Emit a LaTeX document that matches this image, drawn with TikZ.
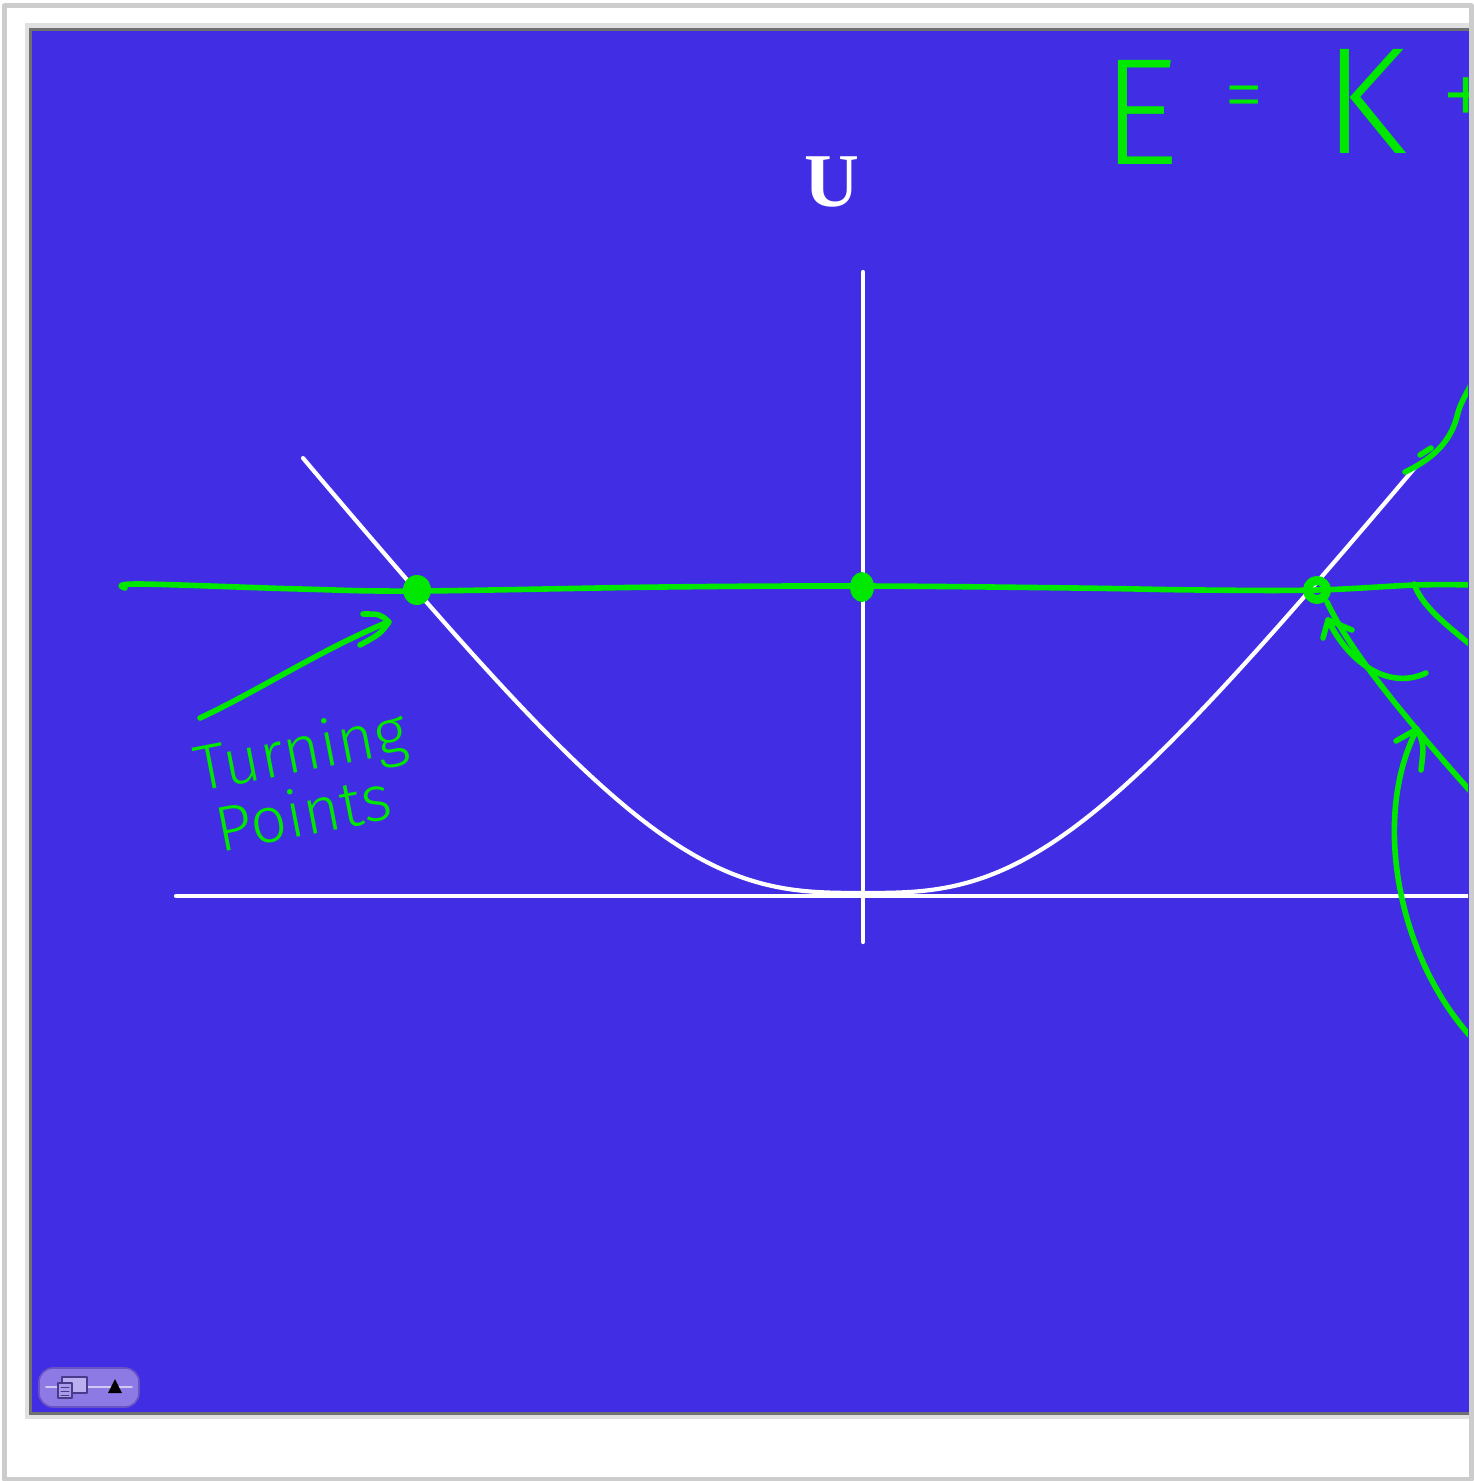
\documentclass[tikz,border=0pt]{standalone}
\usepackage{fontspec}
\setmainfont{Liberation Serif}
\newfontfamily\handfont{Fira Sans Light}
\usetikzlibrary{arrows.meta}
\definecolor{slideblue}{RGB}{65,45,228}
\definecolor{inkgreen}{RGB}{0,232,0}
\definecolor{framegray}{RGB}{204,204,204}
\definecolor{slidelight}{RGB}{224,224,224}
\definecolor{slidedark}{RGB}{112,112,112}
\definecolor{btnfill}{RGB}{142,122,228}
\definecolor{btnedge}{RGB}{104,84,196}

\begin{document}
\begin{tikzpicture}[x=0.5pt,y=-0.5pt,line cap=round,line join=round]
  \tikzstyle{axis}=[draw=white,line width=2.1pt]
  \tikzstyle{ink}=[draw=inkgreen,line width=2.8pt]
  \tikzstyle{hand}=[text=inkgreen,inner sep=0pt,font=\handfont\fontsize{32}{28.5}\selectfont]
  \tikzstyle{bigink}=[text=inkgreen,inner sep=0pt,font=\handfont\fontsize{76}{76}\selectfont]

  \useasboundingbox (0,0) rectangle (1473,1481);
  \fill[white] (0,0) rectangle (1473,1481);

  % -- Slide --
  \fill[slidelight] (25,23) rectangle (1469,1419);
  \fill[slidedark] (29,28) rectangle (1469,1415);
  \fill[slideblue] (32,31) rectangle (1469,1412);

  \begin{scope}
    \clip (32,31) rectangle (1468,1412);

    % -- Axes and potential --
    \draw[axis] (863,272) -- (863,942);
    \draw[axis] (176,896) -- (1480,896);
    \draw[axis] plot[domain=-560:553,samples=221,smooth]
      ({863+\x},{893-1.2*(abs(\x)-199*tanh(abs(\x)/199))});
    \node[text=white,font=\bfseries\fontsize{38}{38}\selectfont] (ulabel) at (832,182) {U};

    % -- Energy level --
    \draw[ink] plot[smooth,tension=0.6] coordinates {(125,588) (139,584) (300,589)
      (417,591) (663,587) (862,586) (1075,588) (1200,590) (1317,590) (1416,585) (1475,585)};
    \coordinate (tpleft) at (417,590);
    \coordinate (eqpoint) at (862,587);
    \coordinate (tpright) at (1317,590);
    \fill[inkgreen] (tpleft) ellipse [x radius=14, y radius=15];
    \fill[inkgreen] (eqpoint) ellipse [x radius=12, y radius=15];
    \draw[inkgreen,line width=4.5pt] (tpright) circle [radius=9.5];

    % -- Turning points note --
    \draw[ink] (200,718) .. controls (260,690) and (320,650) .. (388,622);
    \draw[ink] (363,614) .. controls (380,614) .. (389,622) .. controls (380,634) .. (360,645);
    \node[hand,anchor=base west,rotate=11,align=left] (tplabel) at (211,854)
      {Turning\\\hspace{0.15em}Points};

    % -- Energy equation --
    \node[bigink] (eqE) at (1140,112) {E};
    \node[bigink,font=\handfont\fontsize{40}{40}\selectfont] (eqsign) at (1244,104) {=};
    \node[bigink] (eqK) at (1365,101) {K};
    \node[bigink,font=\handfont\fontsize{50}{50}\selectfont] (eqplus) at (1466,103) {+};

    % -- Right side strokes --
    \draw[ink] (1405,472) .. controls (1430,460) and (1448,445) .. (1456,420)
      .. controls (1460,405) .. (1472,383);
    \draw[ink] (1420,455) -- (1431,448);
    \draw[ink] (1414,584) .. controls (1422,605) and (1440,620) .. (1472,646);
    \draw[ink] (1327,602) .. controls (1345,640) and (1380,690) .. (1472,793);
    \draw[ink] (1426,673) .. controls (1390,690) and (1350,665) .. (1328,620);
    \draw[ink] (1323,638) -- (1328,620) -- (1352,630);
    \draw[ink] (1472,1038) .. controls (1400,960) and (1370,820) .. (1417,729);
    \draw[ink] (1396,741) -- (1417,729) .. controls (1424,745) .. (1421,770);
  \end{scope}

  % -- Player button --
  \draw[btnedge,fill=btnfill,line width=0.8pt,rounded corners=7] (39,1368) rectangle (139,1407);
  \draw[btnfill!40!white,line width=0.8pt] (46,1387) -- (132,1387);
  \draw[btnedge!70!black,fill=btnfill!60!white,line width=0.7pt] (62,1377) rectangle (87,1393);
  \draw[btnedge!70!black,fill=btnfill!75!white,line width=0.7pt] (58,1383) rectangle (72,1398);
  \foreach \ly in {1387,1391,1395}
    \draw[btnedge!70!black,line width=0.5pt] (61,\ly) -- (69,\ly);
  \fill[black] (108,1393) -- (122,1393) -- (115,1379) -- cycle;

  % -- Outer frame --
  \draw[framegray,line width=2.5pt] (4.5,6) rectangle (1471,1479);
\end{tikzpicture}
\end{document}
